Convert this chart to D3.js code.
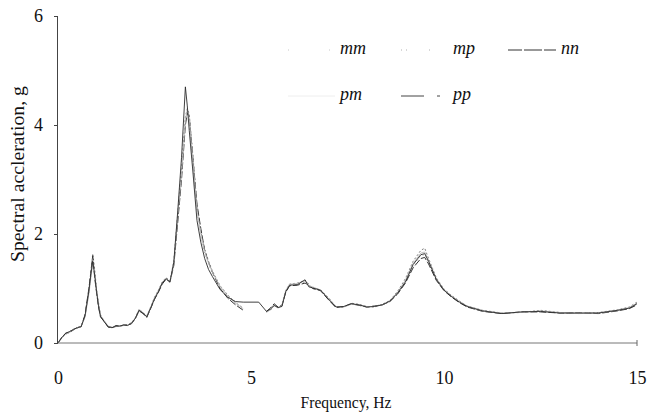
<!DOCTYPE html>
<html>
<head>
<meta charset="utf-8">
<script src="https://cdn.jsdelivr.net/npm/d3@7"></script>
<style>
  body { margin: 0; background: #fff; }
  svg { display: block; }
  svg text { font-family: "Liberation Serif", "Times New Roman", Times, serif !important; fill: #111; }
</style>
</head>
<body>
<svg id="chart" width="656" height="419"></svg>
<script>
// Frequency grid (Hz) shared by all response spectra
const freq = [
  0, 0.1, 0.2, 0.3, 0.4, 0.5, 0.6, 0.7, 0.8, 0.85,
  0.9, 0.95, 1.0, 1.05, 1.1, 1.2, 1.3, 1.4, 1.5, 1.6,
  1.7, 1.8, 1.9, 2.0, 2.1, 2.2, 2.3, 2.4, 2.5, 2.6,
  2.7, 2.8, 2.9, 3.0, 3.1, 3.2, 3.3, 3.35, 3.4, 3.5,
  3.6, 3.7, 3.8, 3.9, 4.0, 4.2, 4.4, 4.6, 4.8, 5.0,
  5.2, 5.4, 5.5, 5.6, 5.7, 5.8, 5.9, 6.0, 6.2, 6.4,
  6.5, 6.6, 6.8, 7.0, 7.2, 7.4, 7.6, 7.8, 8.0, 8.2,
  8.4, 8.6, 8.8, 9.0, 9.2, 9.4, 9.5, 9.6, 9.8, 10.0,
  10.2, 10.4, 10.6, 10.8, 11.0, 11.5, 12.0, 12.5, 13.0, 13.5,
  14.0, 14.5, 14.8, 15.0
];

// Spectral acceleration (g) per case; null = no value recorded
const mm = [
  0, 0.10, 0.17, 0.20, 0.24, 0.28, 0.30, 0.48, 0.92, 1.22,
  1.52, 1.30, 0.95, 0.70, 0.50, 0.40, 0.30, 0.28, 0.31, 0.30,
  0.33, 0.32, 0.36, 0.45, 0.60, 0.55, 0.48, 0.64, 0.82, 0.95,
  1.10, 1.18, 1.10, 1.45, 2.25, 3.05, 4.05, 4.25, 4.10, 3.25,
  2.40, 1.95, 1.65, 1.45, 1.28, 1.02, 0.85, 0.72, 0.62, null,
  null, 0.57, 0.62, 0.70, 0.65, 0.68, 0.95, 1.07, 1.08, 1.12,
  1.05, 1.02, 0.97, 0.82, 0.66, 0.66, 0.72, 0.70, 0.66, 0.67,
  0.70, 0.77, 0.92, 1.12, 1.42, 1.60, 1.62, 1.48, 1.16, 0.97,
  0.85, 0.75, 0.67, 0.63, 0.59, 0.54, 0.57, 0.58, 0.55, 0.55,
  0.55, 0.60, 0.64, 0.72
];
const mp = [
  0, 0.09, 0.16, 0.21, 0.25, 0.27, 0.31, 0.50, 0.98, 1.30,
  1.64, 1.35, 0.98, 0.74, 0.52, 0.38, 0.31, 0.29, 0.30, 0.32,
  0.32, 0.34, 0.37, 0.46, 0.62, 0.56, 0.50, 0.66, 0.84, 0.97,
  1.12, 1.20, 1.14, 1.50, 2.35, 3.20, 4.15, 4.30, 4.20, 3.40,
  2.50, 2.05, 1.72, 1.50, 1.32, 1.05, 0.88, 0.74, 0.64, null,
  null, 0.58, 0.60, 0.68, 0.66, 0.70, 0.97, 1.08, 1.10, 1.15,
  1.08, 1.00, 0.98, 0.84, 0.67, 0.65, 0.73, 0.71, 0.67, 0.66,
  0.71, 0.78, 0.95, 1.18, 1.50, 1.70, 1.74, 1.55, 1.20, 0.99,
  0.87, 0.77, 0.68, 0.64, 0.60, 0.55, 0.56, 0.60, 0.56, 0.54,
  0.56, 0.61, 0.66, 0.75
];
const nn = [
  0, 0.11, 0.18, 0.19, 0.24, 0.29, 0.30, 0.52, 1.00, 1.28,
  1.60, 1.20, 0.92, 0.66, 0.48, 0.39, 0.29, 0.28, 0.32, 0.31,
  0.33, 0.33, 0.35, 0.44, 0.59, 0.54, 0.47, 0.63, 0.80, 0.93,
  1.08, 1.17, 1.12, 1.42, 2.20, 3.00, 4.00, 4.22, 4.15, 3.35,
  2.55, 2.10, 1.70, 1.48, 1.30, 1.00, 0.82, 0.70, 0.60, null,
  null, 0.58, 0.64, 0.72, 0.66, 0.68, 0.93, 1.05, 1.06, 1.10,
  1.06, 1.00, 0.96, 0.80, 0.65, 0.67, 0.72, 0.69, 0.66, 0.68,
  0.70, 0.76, 0.90, 1.10, 1.38, 1.55, 1.57, 1.45, 1.15, 0.96,
  0.84, 0.74, 0.66, 0.62, 0.58, 0.54, 0.57, 0.57, 0.55, 0.55,
  0.54, 0.59, 0.63, 0.70
];
const pm = [
  0, 0.10, 0.16, 0.20, 0.25, 0.27, 0.31, 0.47, 0.90, 1.18,
  1.48, 1.28, 0.96, 0.72, 0.51, 0.41, 0.31, 0.29, 0.30, 0.31,
  0.32, 0.33, 0.36, 0.45, 0.61, 0.56, 0.49, 0.65, 0.83, 0.96,
  1.11, 1.19, 1.11, 1.46, 2.30, 3.10, 4.10, 4.28, 4.12, 3.30,
  2.45, 2.00, 1.68, 1.47, 1.30, 1.04, 0.86, 0.73, 0.63, null,
  null, 0.56, 0.61, 0.69, 0.64, 0.69, 0.96, 1.08, 1.09, 1.14,
  1.04, 1.03, 0.97, 0.83, 0.67, 0.66, 0.71, 0.70, 0.67, 0.67,
  0.70, 0.77, 0.93, 1.15, 1.46, 1.65, 1.67, 1.52, 1.18, 0.98,
  0.86, 0.76, 0.68, 0.63, 0.59, 0.55, 0.56, 0.59, 0.56, 0.54,
  0.55, 0.60, 0.65, 0.73
];
const pp = [
  0, 0.10, 0.18, 0.21, 0.25, 0.28, 0.30, 0.50, 0.95, 1.25,
  1.50, 1.25, 0.94, 0.68, 0.49, 0.39, 0.30, 0.28, 0.31, 0.31,
  0.33, 0.32, 0.36, 0.45, 0.60, 0.55, 0.48, 0.64, 0.81, 0.94,
  1.10, 1.18, 1.12, 1.48, 2.40, 3.40, 4.70, 4.35, 3.90, 3.10,
  2.25, 1.85, 1.55, 1.35, 1.22, 0.98, 0.84, 0.76, 0.75, 0.75,
  0.75, 0.58, 0.62, 0.69, 0.65, 0.67, 0.94, 1.06, 1.07, 1.16,
  1.03, 1.01, 0.97, 0.81, 0.66, 0.67, 0.72, 0.70, 0.66, 0.67,
  0.70, 0.77, 0.92, 1.12, 1.44, 1.62, 1.64, 1.50, 1.17, 0.97,
  0.85, 0.75, 0.67, 0.63, 0.59, 0.54, 0.57, 0.58, 0.55, 0.55,
  0.55, 0.60, 0.64, 0.72
];

const seriesNames = ["mm", "mp", "nn", "pm", "pp"];
const seriesValues = [mm, mp, nn, pm, pp];
const xTickValues = [0, 5, 10, 15];
const yTickValues = [0, 2, 4, 6];
const xTitle = "Frequency, Hz";
const yTitle = "Spectral accleration, g";

const serif = '"Liberation Serif", "Times New Roman", Times, serif';

// Line appearance per case (plot stroke and legend sample)
const styles = {
  mm: { stroke: "#a8a8a8", width: 1.0, dash: "1,3",  key: "#c8c8c8", keyDash: "1,40" },
  mp: { stroke: "#808080", width: 1.0, dash: "2,2",  key: "#b0b0b0", keyDash: "1,4,1,22,1,40" },
  nn: { stroke: "#333",    width: 1.0, dash: "7,2",  key: "#333",    keyDash: "14,2,18,2" },
  pm: { stroke: "#bcbcbc", width: 0.9, dash: null,   key: "#eeeeee", keyDash: null },
  pp: { stroke: "#2a2a2a", width: 0.9, dash: null,   key: "#444",    keyDash: "23,13,3,40" }
};

const svg = d3.select("#chart");

const x = d3.scaleLinear().domain([0, 15]).range([58, 637]);
const y = d3.scaleLinear().domain([0, 6]).range([343, 16]);

// Response spectra
const line = d3.line()
  .defined(d => d.v !== null)
  .x(d => x(d.f))
  .y(d => y(d.v));

seriesNames.forEach((name, i) => {
  const pts = freq.map((f, k) => ({ f: f, v: seriesValues[i][k] }));
  const s = styles[name];
  svg.append("path")
    .datum(pts)
    .attr("fill", "none")
    .attr("stroke", s.stroke)
    .attr("stroke-width", s.width)
    .attr("stroke-dasharray", s.dash)
    .attr("d", line);
});

// Y axis
const yAxis = svg.append("g")
  .attr("transform", `translate(${x(0)},0)`)
  .call(d3.axisLeft(y).tickValues(yTickValues).tickSize(4).tickPadding(11).tickFormat(d3.format("d")))
  .attr("font-family", serif);
yAxis.select(".domain").attr("stroke", "#444").attr("d", `M-0.5,${y(0)}V${y(6)}`);
yAxis.selectAll(".tick line").attr("stroke", "#444");
yAxis.selectAll(".tick text").style("font-size", "18px").style("font-family", serif).attr("fill", "#111");

// X axis
const xAxis = svg.append("g")
  .attr("transform", `translate(0,${y(0)})`)
  .call(d3.axisBottom(x).tickValues(xTickValues).tickSize(0).tickPadding(28).tickFormat(d3.format("d")))
  .attr("font-family", serif);
xAxis.select(".domain").attr("stroke", "#777").attr("d", `M${x(0)},0H${x(15)}`);
xAxis.selectAll(".tick text").style("font-size", "18px").style("font-family", serif).attr("fill", "#111");
xAxis.append("line")
  .attr("x1", x(15)).attr("x2", x(15))
  .attr("y1", -3).attr("y2", 3)
  .attr("stroke", "#666");

// Axis titles
svg.append("text")
  .attr("x", 346)
  .attr("y", 408)
  .attr("text-anchor", "middle")
  .attr("textLength", 91)
  .attr("lengthAdjust", "spacingAndGlyphs")
  .style("font-family", serif)
  .style("font-size", "16px")
  .text(xTitle);

svg.append("text")
  .attr("transform", "translate(24,174) rotate(-90)")
  .attr("text-anchor", "middle")
  .attr("textLength", 176)
  .attr("lengthAdjust", "spacingAndGlyphs")
  .style("font-family", serif)
  .style("font-size", "18px")
  .text(yTitle);

// Legend: three entries on the first row, two on the second
const legendCols = [340, 453, 561];
const legendRows = [54, 100];
const legend = svg.append("g");
seriesNames.forEach((name, i) => {
  const tx = legendCols[i % 3];
  const ty = legendRows[Math.floor(i / 3)];
  const s = styles[name];
  legend.append("line")
    .attr("x1", name === "nn" ? tx - 53 : tx - 52).attr("x2", tx - 5)
    .attr("y1", ty - 4).attr("y2", ty - 4)
    .attr("stroke", s.key)
    .attr("stroke-width", 1)
    .attr("stroke-dasharray", s.keyDash);
  legend.append("text")
    .attr("x", tx)
    .attr("y", ty)
    .style("font-family", serif)
    .style("font-size", "18px")
    .style("font-style", "italic")
    .text(name);
});
</script>
</body>
</html>
